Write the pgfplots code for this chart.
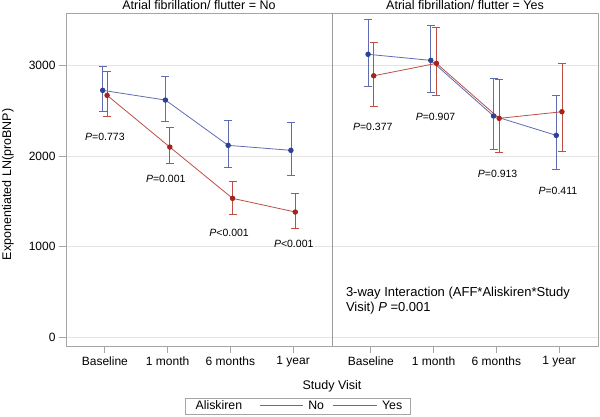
\documentclass[border=0pt]{standalone}
\usepackage{fontspec}
\setmainfont{Liberation Sans}
\usepackage{pgfplots}
\pgfplotsset{compat=1.18}
\definecolor{bl}{RGB}{95,108,178}
\definecolor{blm}{RGB}{45,65,150}
\definecolor{rd}{RGB}{188,78,68}
\definecolor{rdm}{RGB}{165,35,28}
\definecolor{framec}{RGB}{165,165,165}
\definecolor{gridc}{RGB}{228,228,228}
\pgfplotsset{
  panel/.style={
    scale only axis, width=266pt, height=333pt,
    xmin=-0.62, xmax=3.62, ymin=-96, ymax=3580,
    xtick={0,1,2,3}, xticklabels={Baseline,1 month,6 months,1 year},
    ytick={0,1000,2000,3000},
    ymajorgrids, grid style={gridc, line width=0.6pt},
    axis line style={framec, line width=0.8pt},
    tick style={framec, line width=0.8pt},
    tick align=outside, major tick length=7pt,
    xtick pos=left, ytick pos=left,
    ticklabel style={font=\fontsize{12}{14}\selectfont},
    /pgf/number format/assume math mode=true,
    /pgf/number format/1000 sep={},
    every axis title shift=0pt,
    title style={font=\fontsize{12.5}{14}\selectfont, at={(axis description cs:0.5,1.009)}, anchor=base},
    clip=false,
  },
  blueser/.style={bl, line width=0.8pt, mark=*, mark size=2.3pt, mark options={draw=blm, fill=blm},
    error bars/y dir=both, error bars/y explicit,
    error bars/error bar style={bl, line width=0.8pt},
    error bars/error mark options={bl, rotate=90, mark size=4pt, line width=0.8pt}},
  redser/.style={rd, line width=0.8pt, mark=*, mark size=2.3pt, mark options={draw=rdm, fill=rdm},
    error bars/y dir=both, error bars/y explicit,
    error bars/error bar style={rd, line width=0.8pt},
    error bars/error mark options={rd, rotate=90, mark size=4pt, line width=0.8pt}},
}
\newcommand{\pfont}{\fontsize{10.5}{12}\selectfont}
\newcommand{\lfont}{\fontsize{12.3}{14}\selectfont}
\begin{document}
\begin{tikzpicture}
\begin{axis}[panel, at={(66pt,70pt)}, anchor=south west,
  title={Atrial fibrillation/ flutter = No},
  ylabel={Exponentiated LN(proBNP)},
  ylabel style={at={(axis description cs:-0.218,0.485)}, anchor=center, font=\fontsize{12.5}{14}\selectfont},
  xlabel={Study Visit},
  xlabel style={at={(axis description cs:1.0,-0.12)}, anchor=center, font=\fontsize{12.5}{14}\selectfont},
  legend columns=3,
  legend style={at={(axis description cs:0.870,-0.180)}, anchor=center, draw=none, fill=none,
    inner xsep=1pt, inner ysep=1pt,
    /tikz/every odd column/.append style={column sep=3pt},
    /tikz/every even column/.append style={column sep=0pt}},
]
\addplot[forget plot, blueser] coordinates {
  (-0.035,2726) += (0,264) -= (0,236)
  (0.965,2619) += (0,257) -= (0,232)
  (1.965,2119) += (0,279) -= (0,243)
  (2.965,2064) += (0,309) -= (0,273)
};
\addplot[forget plot, redser] coordinates {
  (0.035,2671) += (0,268) -= (0,236)
  (1.035,2100) += (0,213) -= (0,184)
  (2.035,1534) += (0,191) -= (0,181)
  (3.035,1383) += (0,202) -= (0,180)
};
\addlegendimage{empty legend}
\addlegendentry{\lfont Aliskiren\rule{15pt}{0pt}}
\addlegendimage{legend image code/.code={\draw[draw=bl, line width=1.1pt] (0pt,0pt) -- (43pt,0pt);}}
\addlegendentry{\lfont No\rule{6pt}{0pt}}
\addlegendimage{legend image code/.code={\draw[draw=rd, line width=1.1pt] (0pt,0pt) -- (44pt,0pt);}}
\addlegendentry{\lfont Yes}
\node[font=\pfont] at (axis cs:0,2207) {\textit{P}=0.773};
\node[font=\pfont] at (axis cs:0.97,1747) {\textit{P}=0.001};
\node[font=\pfont] at (axis cs:1.98,1155) {\textit{P}<0.001};
\node[font=\pfont] at (axis cs:3.01,1030) {\textit{P}<0.001};
\end{axis}
\begin{axis}[panel, at={(332pt,70pt)}, anchor=south west,
  title={Atrial fibrillation/ flutter = Yes},
  yticklabels={}, ytick style={draw=none},
]
\addplot[blueser] coordinates {
  (-0.045,3124) += (0,389) -= (0,354)
  (0.955,3057) += (0,382) -= (0,350)
  (1.955,2443) += (0,419) -= (0,365)
  (2.955,2229) += (0,442) -= (0,375)
};
\addplot[redser] coordinates {
  (0.045,2887) += (0,369) -= (0,334)
  (1.045,3024) += (0,394) -= (0,350)
  (2.045,2417) += (0,426) -= (0,372)
  (3.045,2490) += (0,530) -= (0,434)
};
\node[font=\pfont] at (axis cs:0.03,2325) {\textit{P}=0.377};
\node[font=\pfont] at (axis cs:1.03,2428) {\textit{P}=0.907};
\node[font=\pfont] at (axis cs:2.02,1802) {\textit{P}=0.913};
\node[font=\pfont] at (axis cs:2.98,1618) {\textit{P}=0.411};
\node[font=\fontsize{13}{15}\selectfont, align=left, anchor=west, inner sep=0pt] at (axis cs:-0.40,406)
  {3-way Interaction (AFF*Aliskiren*Study\\Visit) \textit{P} =0.001};
\end{axis}
\draw[gray!80, line width=0.8pt] (332pt,70pt) -- (332pt,403pt);
\draw[framec, line width=0.8pt] (185pt,1.5pt) rectangle (410pt,18pt);
\pgfresetboundingbox
\path (0,0) rectangle (600pt,416pt);
\end{tikzpicture}
\end{document}
